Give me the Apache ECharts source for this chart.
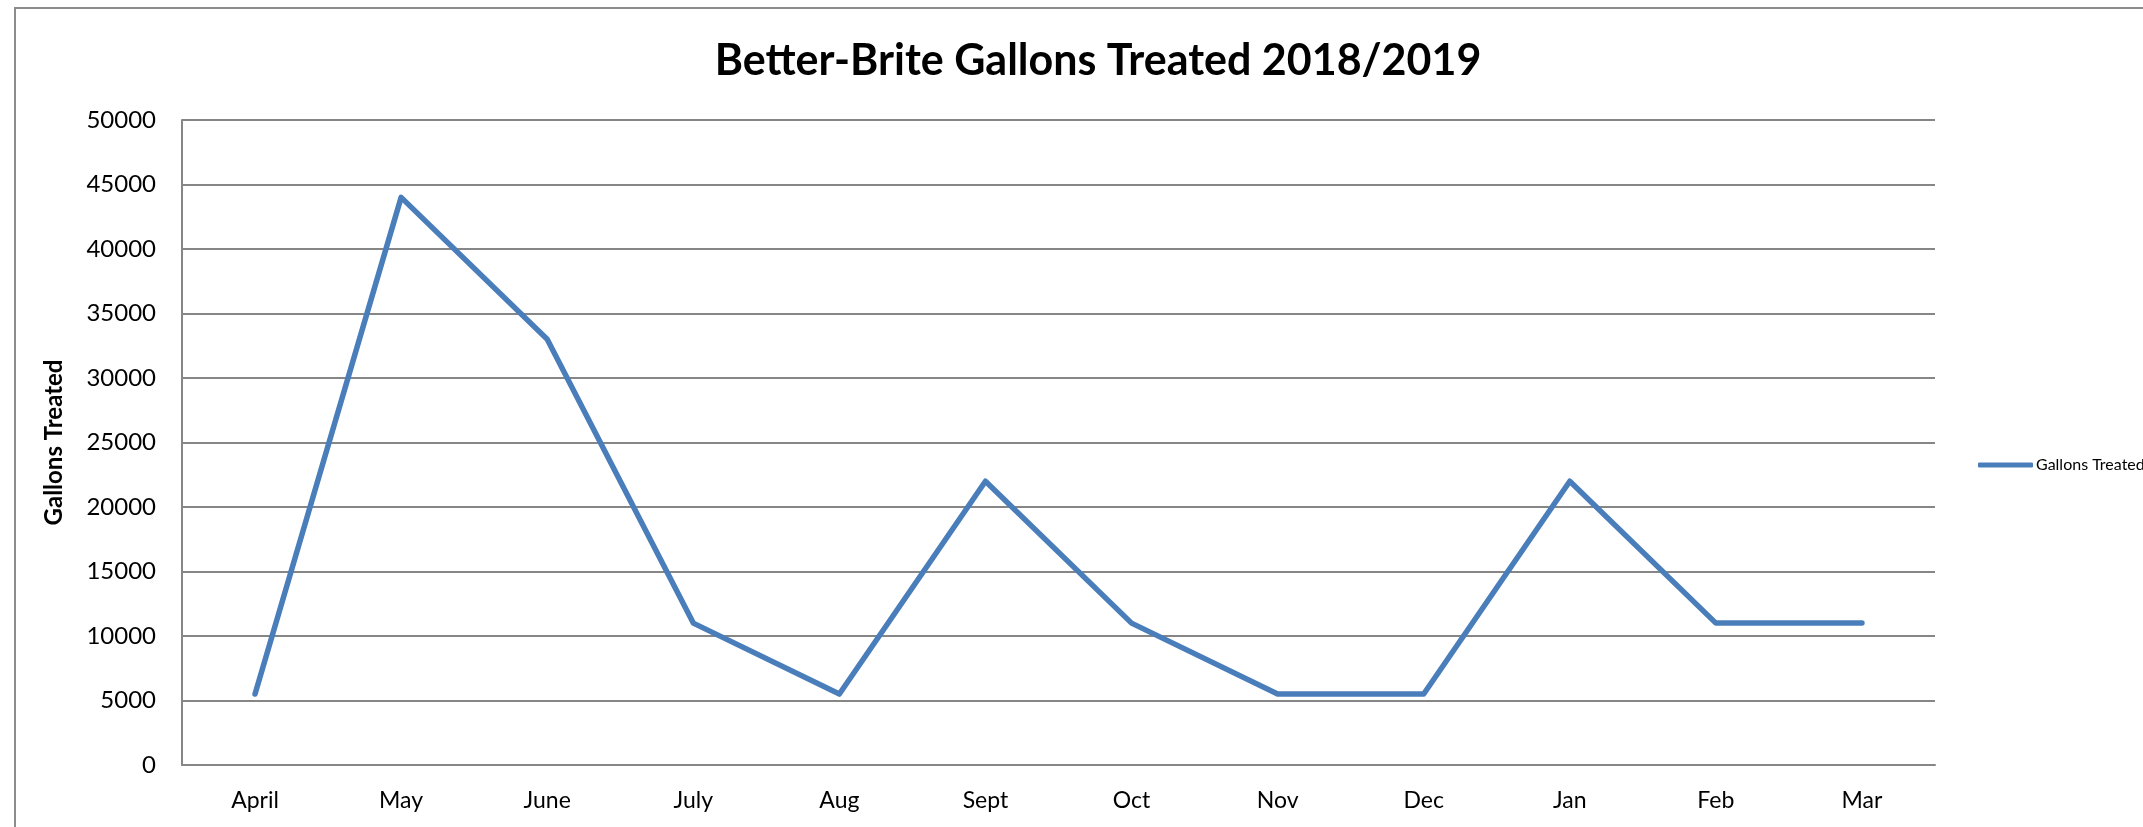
<!DOCTYPE html>
<html>
<head>
<meta charset="utf-8">
<script src="https://cdn.jsdelivr.net/npm/echarts@6/dist/echarts.min.js"></script>
<style>
  html, body { margin: 0; padding: 0; background: #fff; }
  #chart { width: 2143px; height: 827px; }
</style>
</head>
<body>
<div id="chart"></div>
<script>
const months = ['April', 'May', 'June', 'July', 'Aug', 'Sept', 'Oct', 'Nov', 'Dec', 'Jan', 'Feb', 'Mar'];
const gallons = [5500, 44000, 33000, 11000, 5500, 22000, 11000, 5500, 5500, 22000, 11000, 11000];
const seriesName = 'Gallons Treated';

const font = 'Lato, "Open Sans", sans-serif';
const chart = echarts.init(document.getElementById('chart'));

chart.setOption({
  animation: false,
  title: {
    text: 'Better-Brite Gallons Treated 2018/2019',
    left: 1093,
    textAlign: 'center',
    top: 35,
    textStyle: { fontFamily: font, fontWeight: 'bold', fontSize: 43, color: '#000' }
  },
  graphic: [{
    type: 'rect',
    shape: { x: 15, y: 8, width: 2200, height: 900 },
    style: { fill: 'none', stroke: '#8c8c8c', lineWidth: 2 },
    silent: true
  }],
  legend: {
    data: [seriesName],
    left: 1973,
    top: 452,
    icon: 'roundRect',
    itemWidth: 55,
    itemHeight: 5,
    itemGap: 0,
    textStyle: { fontFamily: font, fontSize: 16, color: '#000', padding: [0, 0, 0, -2] }
  },
  grid: { left: 182, right: 208, top: 120, bottom: 62 },
  xAxis: {
    type: 'category',
    data: months,
    boundaryGap: true,
    axisLine: { lineStyle: { color: '#868686', width: 2 } },
    axisTick: { show: false },
    axisLabel: { fontFamily: font, fontSize: 23, color: '#000', margin: 24 }
  },
  yAxis: {
    type: 'value',
    min: 0,
    max: 50000,
    interval: 5000,
    name: seriesName,
    nameLocation: 'middle',
    nameGap: 116,
    nameTextStyle: { fontFamily: font, fontWeight: 'bold', fontSize: 24, color: '#000' },
    axisLine: { show: true, lineStyle: { color: '#868686', width: 2 } },
    axisTick: { show: false },
    axisLabel: { fontFamily: font, fontSize: 24, color: '#000', margin: 26, formatter: v => String(v) },
    splitLine: { lineStyle: { color: '#868686', width: 2 } }
  },
  series: [{
    name: seriesName,
    type: 'line',
    data: gallons,
    showSymbol: false,
    symbol: 'none',
    lineStyle: { color: '#4a7ebb', width: 5.5, cap: 'round', join: 'round' },
    itemStyle: { color: '#4a7ebb' }
  }]
});
</script>
</body>
</html>
